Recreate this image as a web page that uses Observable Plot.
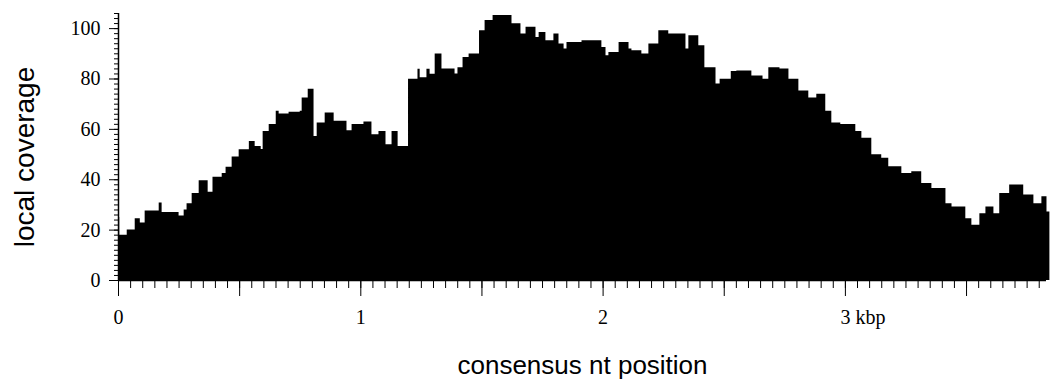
<!DOCTYPE html>
<html>
<head>
<meta charset="utf-8">
<script src="https://cdn.jsdelivr.net/npm/d3@7"></script>
<script src="https://cdn.jsdelivr.net/npm/@observablehq/plot@0.6"></script>
<style>
  html, body { margin: 0; padding: 0; background: #fff; }
  #chart svg { display: block; }
</style>
</head>
<body>
<div id="chart"></div>
<script>
// consensus nt position (bp) where each coverage step begins
const positionBp = [0,5,36,69,90,110,168,180,250,271,283,304,333,370,390,428,444,469,498,540,564,589,597,622,651,663,704,750,758,783,807,820,853,890,943,964,1013,1046,1075,1104,1129,1154,1197,1236,1245,1273,1286,1307,1335,1389,1401,1422,1447,1490,1513,1546,1624,1661,1682,1723,1736,1764,1797,1818,1839,1851,1913,1995,2012,2024,2066,2107,2119,2160,2189,2230,2271,2342,2354,2395,2420,2466,2483,2529,2552,2614,2660,2684,2730,2767,2808,2849,2882,2919,2944,2981,3043,3068,3109,3150,3179,3233,3274,3315,3357,3415,3440,3497,3522,3555,3580,3613,3637,3678,3736,3778,3811,3832,3844];
// local coverage for each step
const coverage = [25,18,20,24.5,22.8,27.6,30.8,27,25.6,28,30.5,34.5,39.6,35,41,42.5,45,49,51.9,55.2,53.2,52,59.2,61.9,67.2,66.1,66.8,67.2,72.5,75.9,57.2,62.5,66.5,63.2,59.5,61.9,62.9,57.9,59.2,53.9,59.2,53.2,79.9,83.9,80.5,83.9,81.9,89.9,84,82,84.5,88.5,89.9,99.2,103.2,105.2,101.9,97.9,100.5,96.5,98.5,95.2,97.9,93.9,91.9,94.5,95.2,92.5,89.2,90.5,94.5,91.9,91.2,89.9,93.9,99.2,97.9,91.9,97.2,93.2,84.5,78,79.9,83,83.2,81.2,79.9,84.5,84,79.9,75.2,72.5,73.9,67.2,62.5,61.9,59.2,56.5,49.9,48.5,45.2,42.5,43.2,38.5,36.5,30.5,29.2,24.5,21.9,26.5,29.2,26.5,34.5,37.9,33.9,30.5,33.2,27.2,27.2];

const yLabelTicks = [0, 20, 40, 60, 80, 100];
const xLabelTicks = [0, 1, 2];
const xUnitTick = [3];
const xUnit = "kbp";
const xTitle = "consensus nt position";
const yTitle = "local coverage";

const data = positionBp.map((p, i) => ({kbp: p / 1000, cov: coverage[i]}));

const xMax = 3.83;
const yMax = 106;
const yMinor = d3.range(0, yMax + 0.1, 2);
const xMinor = d3.range(0, 77).map(i => +(i * 0.05).toFixed(2)).filter(v => v <= xMax);
const xMajor = d3.range(0, 8).map(i => i * 0.5).filter(v => v <= xMax);

const serif = "'Liberation Serif', 'Times New Roman', serif";
const sans = "'Liberation Sans', Arial, sans-serif";

const chart = Plot.plot({
  width: 1050,
  height: 391,
  marginLeft: 118,
  marginRight: 4,
  marginTop: 13,
  marginBottom: 111,
  style: {background: "#fff", color: "#000"},
  x: {domain: [0, xMax]},
  y: {domain: [0, yMax]},
  marks: [
    Plot.areaY(data, {x: "kbp", y: "cov", curve: "step-after", fill: "#000"}),
    Plot.ruleX([0], {stroke: "#000", strokeWidth: 1.5}),
    Plot.ruleY([0], {stroke: "#000", strokeWidth: 1.5}),
    Plot.axisY(yMinor, {tickSize: 4, tickFormat: () => "", label: null}),
    Plot.axisY(yLabelTicks, {tickSize: 9, tickPadding: 9, fontSize: 20, fontFamily: serif, tickFormat: d => String(d), label: null}),
    Plot.axisX(xMinor, {tickSize: 8, tickFormat: () => "", label: null}),
    Plot.axisX(xMajor, {tickSize: 16, tickFormat: () => "", label: null}),
    Plot.axisX(xLabelTicks, {tickSize: 0, tickPadding: 29, fontSize: 20, fontFamily: serif, tickFormat: d => String(d), label: null}),
    Plot.axisX(xUnitTick, {tickSize: 0, tickPadding: 29, fontSize: 20, fontFamily: serif, textAnchor: "start", dx: -5, tickFormat: d => `${d} ${xUnit}`, label: null}),
    Plot.text([yTitle], {frameAnchor: "left", textAnchor: "middle", dx: -93, dy: 10, rotate: -90, fontSize: 28, fontFamily: sans, fill: "#000"}),
    Plot.text([xTitle], {frameAnchor: "bottom", textAnchor: "middle", dy: 93, fontSize: 26, fontFamily: sans, fill: "#000"})
  ]
});

document.getElementById("chart").appendChild(chart);
</script>
</body>
</html>
